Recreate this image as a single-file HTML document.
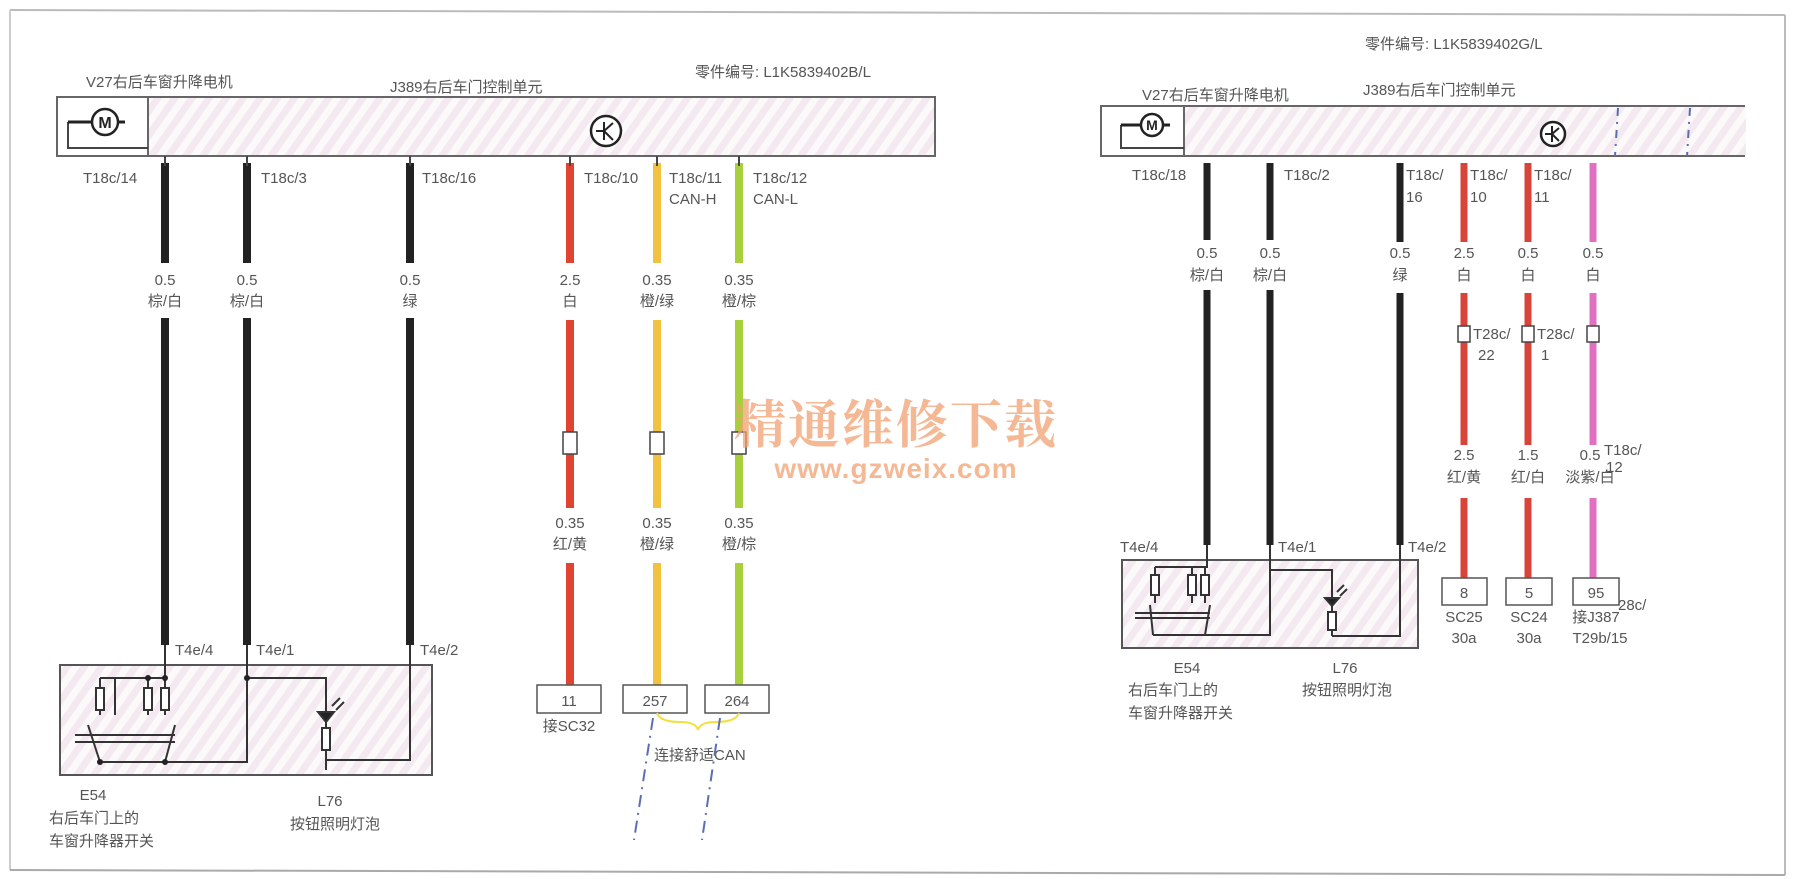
<!DOCTYPE html>
<html><head><meta charset="utf-8"><style>
html,body{margin:0;padding:0;background:#fff;}
svg{display:block;}
text{font-family:"Liberation Sans","Noto Sans CJK SC",sans-serif;fill:#555;font-size:15px;}
</style></head><body>
<svg width="1795" height="879" viewBox="0 0 1795 879" xmlns="http://www.w3.org/2000/svg">
<defs>
<pattern id="h" width="14" height="14" patternUnits="userSpaceOnUse" patternTransform="rotate(35)">
<rect width="14" height="14" fill="#fcf9fb"/><rect width="7" height="14" fill="#f4e9f0"/>
</pattern>
</defs>
<!-- frame -->
<line x1="10" y1="10" x2="1785" y2="15" stroke="#bbb" stroke-width="2"/>
<line x1="10" y1="10" x2="10" y2="870" stroke="#ccc" stroke-width="2"/>
<line x1="1785" y1="15" x2="1785" y2="875" stroke="#bbb" stroke-width="2"/>
<line x1="10" y1="870" x2="1785" y2="875" stroke="#aaa" stroke-width="2"/>

<!-- LEFT -->
<text x="695" y="77">零件编号:  L1K5839402B/L</text>
<text x="86" y="87">V27右后车窗升降电机</text>
<text x="390" y="92">J389右后车门控制单元</text>
<rect x="57" y="97" width="878" height="59" fill="url(#h)" stroke="#666" stroke-width="2"/>
<rect x="57" y="97" width="91" height="59" fill="#fff" stroke="#666" stroke-width="2"/>
<path d="M68 122 V148 H148" fill="none" stroke="#444" stroke-width="2"/>
<line x1="68" y1="122" x2="125" y2="122" stroke="#222" stroke-width="3"/>
<circle cx="105" cy="122" r="13" fill="#fff" stroke="#222" stroke-width="2.5"/>
<text x="105" y="128" text-anchor="middle" style="font-size:16px;fill:#222;font-weight:bold">M</text>
<circle cx="606" cy="131" r="15" fill="#fff" stroke="#222" stroke-width="2.5"/>
<path d="M596 131 H604 M604 122 V140 M604 131 L613 123 M604 131 L613 140" stroke="#222" stroke-width="2" fill="none"/>

<g stroke-width="8">
<line x1="165" y1="163" x2="165" y2="263" stroke="#222"/><line x1="165" y1="318" x2="165" y2="645" stroke="#222"/>
<line x1="247" y1="163" x2="247" y2="263" stroke="#222"/><line x1="247" y1="318" x2="247" y2="645" stroke="#222"/>
<line x1="410" y1="163" x2="410" y2="263" stroke="#222"/><line x1="410" y1="318" x2="410" y2="645" stroke="#222"/>
<line x1="570" y1="163" x2="570" y2="263" stroke="#e0432f"/><line x1="570" y1="320" x2="570" y2="508" stroke="#e0432f"/><line x1="570" y1="563" x2="570" y2="685" stroke="#e0432f"/>
<line x1="657" y1="163" x2="657" y2="263" stroke="#f0c240"/><line x1="657" y1="320" x2="657" y2="508" stroke="#f0c240"/><line x1="657" y1="563" x2="657" y2="685" stroke="#f0c240"/>
<line x1="739" y1="163" x2="739" y2="263" stroke="#a8d03c"/><line x1="739" y1="320" x2="739" y2="508" stroke="#a8d03c"/><line x1="739" y1="563" x2="739" y2="685" stroke="#a8d03c"/>
</g>
<g stroke="#444" stroke-width="2"><line x1="165" y1="156" x2="165" y2="166"/><line x1="247" y1="156" x2="247" y2="166"/><line x1="410" y1="156" x2="410" y2="166"/><line x1="570" y1="156" x2="570" y2="166"/><line x1="657" y1="156" x2="657" y2="166"/><line x1="739" y1="156" x2="739" y2="166"/></g>
<text x="83" y="183">T18c/14</text><text x="261" y="183">T18c/3</text><text x="422" y="183">T18c/16</text>
<text x="584" y="183">T18c/10</text><text x="669" y="183">T18c/11</text><text x="669" y="204">CAN-H</text>
<text x="753" y="183">T18c/12</text><text x="753" y="204">CAN-L</text>
<g text-anchor="middle">
<text x="165" y="285">0.5</text><text x="165" y="306">棕/白</text>
<text x="247" y="285">0.5</text><text x="247" y="306">棕/白</text>
<text x="410" y="285">0.5</text><text x="410" y="306">绿</text>
<text x="570" y="285">2.5</text><text x="570" y="306">白</text>
<text x="657" y="285">0.35</text><text x="657" y="306">橙/绿</text>
<text x="739" y="285">0.35</text><text x="739" y="306">橙/棕</text>
<text x="570" y="528">0.35</text><text x="570" y="549">红/黄</text>
<text x="657" y="528">0.35</text><text x="657" y="549">橙/绿</text>
<text x="739" y="528">0.35</text><text x="739" y="549">橙/棕</text>
</g>
<g fill="#fff" stroke="#444" stroke-width="1.5"><rect x="563" y="432" width="14" height="22"/><rect x="650" y="432" width="14" height="22"/><rect x="732" y="432" width="14" height="22"/></g>
<text x="175" y="655">T4e/4</text><text x="256" y="655">T4e/1</text><text x="420" y="655">T4e/2</text>
<rect x="60" y="665" width="372" height="110" fill="url(#h)" stroke="#555" stroke-width="2"/>
<g stroke="#333" stroke-width="2" fill="none">
<path d="M165 645 V678 H100 M148 678 V715 M100 678 V715 M165 678 V715 M115 678 V715"/>
<rect x="96" y="688" width="8" height="22" fill="#fff"/><rect x="144" y="688" width="8" height="22" fill="#fff"/><rect x="161" y="688" width="8" height="22" fill="#fff"/>
<path d="M75 735 H175 M75 742 H175 M88 725 L100 762 M175 725 L165 762 M100 762 H247 V645 M247 678 H326 V770 M326 760 H410 V645"/>
<rect x="322" y="728" width="8" height="22" fill="#fff"/>
<path d="M318 712 H334 L326 722 Z" fill="#222"/><path d="M332 706 L340 698 M336 710 L344 702"/>
</g>
<g fill="#222"><circle cx="165" cy="678" r="3"/><circle cx="148" cy="678" r="3"/><circle cx="247" cy="678" r="3"/><circle cx="100" cy="762" r="3"/><circle cx="165" cy="762" r="3"/></g>
<text x="93" y="800" text-anchor="middle">E54</text><text x="49" y="823">右后车门上的</text><text x="49" y="846">车窗升降器开关</text>
<text x="330" y="806" text-anchor="middle">L76</text><text x="290" y="829">按钮照明灯泡</text>
<g fill="#fff" stroke="#555" stroke-width="1.5"><rect x="537" y="685" width="64" height="28"/><rect x="623" y="685" width="64" height="28"/><rect x="705" y="685" width="64" height="28"/></g>
<g text-anchor="middle" style="font-size:17px"><text x="569" y="706">11</text><text x="655" y="706">257</text><text x="737" y="706">264</text></g>
<text x="569" y="731" text-anchor="middle">接SC32</text>
<path d="M657 713 Q660 722 680 722 Q696 722 698 730 Q700 722 716 722 Q736 722 739 713" fill="none" stroke="#f0e040" stroke-width="2"/>
<text x="654" y="760">连接舒适CAN</text>
<g stroke="#5a6fb0" stroke-width="2" stroke-dasharray="12 6 2 6"><line x1="653" y1="718" x2="634" y2="840"/><line x1="720" y1="718" x2="702" y2="840"/></g>

<!-- RIGHT -->
<text x="1365" y="49">零件编号:  L1K5839402G/L</text>
<text x="1142" y="100">V27右后车窗升降电机</text>
<text x="1363" y="95">J389右后车门控制单元</text>
<rect x="1101" y="106" width="645" height="50" fill="url(#h)" stroke="none"/>
<path d="M1745 106 H1101 V156 H1745" fill="none" stroke="#666" stroke-width="2"/>
<rect x="1101" y="106" width="83" height="50" fill="#fff" stroke="#666" stroke-width="2"/>
<path d="M1121 125 V148 H1184" fill="none" stroke="#444" stroke-width="2"/>
<line x1="1121" y1="125" x2="1170" y2="125" stroke="#222" stroke-width="3"/>
<circle cx="1152" cy="125" r="11" fill="#fff" stroke="#222" stroke-width="2.5"/>
<text x="1152" y="130" text-anchor="middle" style="font-size:14px;fill:#222;font-weight:bold">M</text>
<circle cx="1553" cy="134" r="12" fill="#fff" stroke="#222" stroke-width="2.5"/>
<path d="M1545 134 H1552 M1552 126 V142 M1552 134 L1559 128 M1552 134 L1559 141" stroke="#222" stroke-width="2" fill="none"/>
<g stroke="#5a6fb0" stroke-width="2" stroke-dasharray="8 6 2 6"><line x1="1618" y1="108" x2="1615" y2="156"/><line x1="1690" y1="108" x2="1687" y2="156"/></g>
<g stroke-width="7">
<line x1="1207" y1="163" x2="1207" y2="240" stroke="#222"/><line x1="1207" y1="290" x2="1207" y2="545" stroke="#222"/>
<line x1="1270" y1="163" x2="1270" y2="240" stroke="#222"/><line x1="1270" y1="290" x2="1270" y2="545" stroke="#222"/>
<line x1="1400" y1="163" x2="1400" y2="242" stroke="#222"/><line x1="1400" y1="293" x2="1400" y2="545" stroke="#222"/>
<line x1="1464" y1="163" x2="1464" y2="242" stroke="#d8433a"/><line x1="1464" y1="293" x2="1464" y2="445" stroke="#d8433a"/><line x1="1464" y1="498" x2="1464" y2="578" stroke="#d8433a"/>
<line x1="1528" y1="163" x2="1528" y2="242" stroke="#d8433a"/><line x1="1528" y1="293" x2="1528" y2="445" stroke="#d8433a"/><line x1="1528" y1="498" x2="1528" y2="578" stroke="#d8433a"/>
<line x1="1593" y1="163" x2="1593" y2="242" stroke="#e070c0"/><line x1="1593" y1="293" x2="1593" y2="445" stroke="#e070c0"/><line x1="1593" y1="498" x2="1593" y2="578" stroke="#e070c0"/>
</g>
<line x1="1184" y1="156" x2="1400" y2="156" stroke="#666" stroke-width="2"/>
<text x="1132" y="180">T18c/18</text><text x="1284" y="180">T18c/2</text>
<text x="1406" y="180">T18c/</text><text x="1406" y="202">16</text>
<text x="1470" y="180">T18c/</text><text x="1470" y="202">10</text>
<text x="1534" y="180">T18c/</text><text x="1534" y="202">11</text>
<g text-anchor="middle">
<text x="1207" y="258">0.5</text><text x="1207" y="280">棕/白</text>
<text x="1270" y="258">0.5</text><text x="1270" y="280">棕/白</text>
<text x="1400" y="258">0.5</text><text x="1400" y="280">绿</text>
<text x="1464" y="258">2.5</text><text x="1464" y="280">白</text>
<text x="1528" y="258">0.5</text><text x="1528" y="280">白</text>
<text x="1593" y="258">0.5</text><text x="1593" y="280">白</text>
<text x="1464" y="460">2.5</text><text x="1464" y="482">红/黄</text>
<text x="1528" y="460">1.5</text><text x="1528" y="482">红/白</text>
<text x="1590" y="460">0.5</text><text x="1590" y="482">淡紫/白</text>
</g>
<g fill="#fff" stroke="#444" stroke-width="1.5"><rect x="1458" y="326" width="12" height="16"/><rect x="1522" y="326" width="12" height="16"/><rect x="1587" y="326" width="12" height="16"/></g>
<text x="1473" y="339">T28c/</text><text x="1478" y="360">22</text><text x="1537" y="339">T28c/</text><text x="1541" y="360">1</text>
<text x="1604" y="455">T18c/</text><text x="1606" y="472">12</text>
<text x="1120" y="552">T4e/4</text><text x="1278" y="552">T4e/1</text><text x="1408" y="552">T4e/2</text>
<rect x="1122" y="560" width="296" height="88" fill="url(#h)" stroke="#555" stroke-width="2"/>
<g stroke="#333" stroke-width="2" fill="none">
<path d="M1207 545 V567 H1155 M1155 567 V603 M1192 567 V603 M1205 567 V603"/>
<rect x="1151" y="575" width="8" height="20" fill="#fff"/><rect x="1188" y="575" width="8" height="20" fill="#fff"/><rect x="1201" y="575" width="8" height="20" fill="#fff"/>
<path d="M1135 613 H1210 M1135 618 H1210 M1150 605 L1153 635 M1210 605 L1205 635 M1153 635 H1270 V545 M1270 570 H1332 V636 M1332 636 H1400 V545"/>
<rect x="1328" y="612" width="8" height="18" fill="#fff"/>
<path d="M1325 598 H1339 L1332 606 Z" fill="#222"/><path d="M1337 592 L1344 585 M1340 596 L1347 589"/>
</g>
<text x="1187" y="673" text-anchor="middle">E54</text><text x="1128" y="695">右后车门上的</text><text x="1128" y="718">车窗升降器开关</text>
<text x="1345" y="673" text-anchor="middle">L76</text><text x="1302" y="695">按钮照明灯泡</text>
<g fill="#fff" stroke="#555" stroke-width="1.5"><rect x="1442" y="578" width="45" height="27"/><rect x="1506" y="578" width="46" height="27"/><rect x="1573" y="578" width="46" height="27"/></g>
<g text-anchor="middle" style="font-size:17px"><text x="1464" y="598">8</text><text x="1529" y="598">5</text><text x="1596" y="598">95</text></g>
<g text-anchor="middle"><text x="1464" y="622">SC25</text><text x="1464" y="643">30a</text><text x="1529" y="622">SC24</text><text x="1529" y="643">30a</text>
<text x="1596" y="622">接J387</text><text x="1600" y="643">T29b/15</text></g>
<text x="1618" y="610">28c/</text>

<!-- watermark -->
<text x="896" y="443" text-anchor="middle" style="font-size:52px;fill:#f0a070;fill-opacity:0.75;font-family:'Noto Serif CJK SC','Liberation Serif',serif;font-weight:bold;letter-spacing:2px">精通维修下载</text>
<text x="896" y="478" text-anchor="middle" style="font-size:28px;fill:#f0a070;fill-opacity:0.75;font-weight:bold;letter-spacing:1px">www.gzweix.com</text>
</svg>
</body></html>
